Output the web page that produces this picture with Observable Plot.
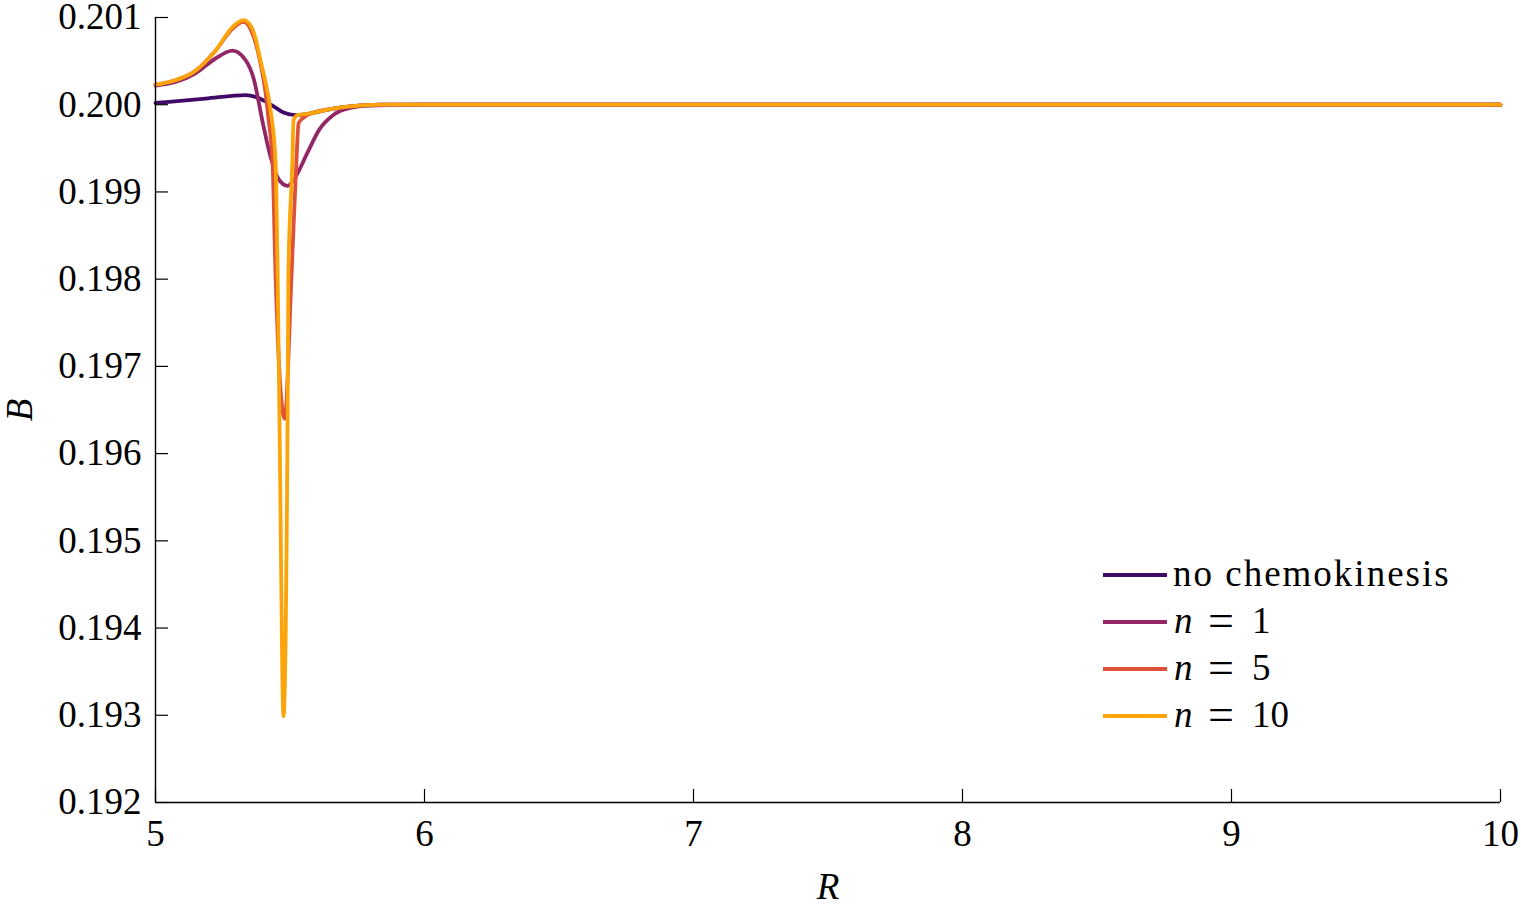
<!DOCTYPE html>
<html>
<head>
<meta charset="utf-8">
<script src="https://cdn.jsdelivr.net/npm/d3@7"></script>
<script src="https://cdn.jsdelivr.net/npm/@observablehq/plot@0.6"></script>
<style>
  html, body { margin: 0; padding: 0; background: #fff; }
  #chart svg g[aria-label="x-axis label"] text,
  #chart svg g[aria-label="y-axis label"] text { font-style: italic; }
</style>
</head>
<body>
<div id="chart"></div>
<script>
// ---- data ----
const seriesNames = ["no chemokinesis", "n = 1", "n = 5", "n = 10"];
const seriesColors = ["#420a68", "#932667", "#dd513a", "#fca50a"];

const R_none = [5.000, 5.186, 5.335, 5.372, 5.401, 5.435, 5.476, 5.520, 5.576, 5.651, 5.725, 5.836, 5.985, 10];
const B_none = [0.20002, 0.20007, 0.20011, 0.20009, 0.20005, 0.19999, 0.19991, 0.19988, 0.19990, 0.19995, 0.19998, 0.20000, 0.20000, 0.20000];

const R_n1 = [5.000, 5.074, 5.149, 5.223, 5.286, 5.335, 5.364, 5.401, 5.428, 5.457, 5.491, 5.520, 5.565, 5.610, 5.660, 5.720, 5.800, 5.985, 10];
const B_n1 = [0.20022, 0.20026, 0.20036, 0.20053, 0.20062, 0.20051, 0.20031, 0.19976, 0.19940, 0.19915, 0.19907, 0.19917, 0.19945, 0.19972, 0.19988, 0.19996, 0.19999, 0.20000, 0.20000];

const R_n5 = [5.000, 5.074, 5.149, 5.223, 5.286, 5.327, 5.353, 5.372, 5.390, 5.409, 5.420, 5.435, 5.446, 5.480, 5.506, 5.524, 5.532, 5.550, 5.576, 5.651, 5.725, 5.836, 5.985, 10];
const B_n5 = [0.20023, 0.20028, 0.20039, 0.20062, 0.20087, 0.20095, 0.20087, 0.20071, 0.20048, 0.20014, 0.19984, 0.19936, 0.19807, 0.19640, 0.19807, 0.19936, 0.19979, 0.19985, 0.19990, 0.19995, 0.19998, 0.20000, 0.20000, 0.20000];

const R_n10 = [5.000, 5.074, 5.149, 5.223, 5.286, 5.327, 5.353, 5.372, 5.390, 5.409, 5.428, 5.446, 5.454, 5.461, 5.476, 5.491, 5.494, 5.509, 5.513, 5.528, 5.576, 5.651, 5.725, 5.836, 5.985, 10];
const B_n10 = [0.20023, 0.20028, 0.20039, 0.20062, 0.20089, 0.20097, 0.20091, 0.20076, 0.20051, 0.20026, 0.19993, 0.19936, 0.19807, 0.19638, 0.19299, 0.19638, 0.19807, 0.19936, 0.19982, 0.19988, 0.19990, 0.19995, 0.19998, 0.20000, 0.20000, 0.20000];

const xTicks = [5, 6, 7, 8, 9, 10];
const yTicks = [0.192, 0.193, 0.194, 0.195, 0.196, 0.197, 0.198, 0.199, 0.200, 0.201];

// ---- build table ----
const seriesR = [R_none, R_n1, R_n5, R_n10];
const seriesB = [B_none, B_n1, B_n5, B_n10];
const table = seriesNames.flatMap((name, i) =>
  seriesR[i].map((r, j) => ({series: name, R: r, B: seriesB[i][j]}))
);

const FONT = "'Liberation Serif', 'Times New Roman', serif";

// legend rendered as a custom mark
function legendMark(index, scales, values, dims) {
  const g = d3.create("svg:g")
    .attr("font-family", FONT).attr("font-size", 37)
    .attr("text-anchor", "start");
  const x0 = dims.width - 418, x1 = dims.width - 354, tx = dims.width - 348;
  const y0 = 575, step = 47;
  seriesNames.forEach((name, i) => {
    const y = y0 + i * step;
    g.append("line")
      .attr("x1", x0).attr("x2", x1).attr("y1", y).attr("y2", y)
      .attr("stroke", scales.color(name)).attr("stroke-width", 3.8);
    const t = g.append("text").attr("y", y + 11).attr("fill", "black").attr("text-anchor", "start");
    const m = name.match(/^n = (\d+)$/);
    if (m) {
      t.append("tspan").attr("x", tx + 1).attr("font-style", "italic").text("n");
      t.append("tspan").attr("x", tx + 35).attr("font-size", 46).attr("dy", 3).text("=");
      t.append("tspan").attr("x", tx + 79).attr("dy", -3).text(m[1]);
    } else {
      t.attr("x", tx).attr("letter-spacing", 2).text(name);
    }
  });
  return g.node();
}

const chart = Plot.plot({
  width: 1521,
  height: 905,
  marginLeft: 155,
  marginRight: 21,
  marginTop: 17,
  marginBottom: 103,
  style: {fontFamily: FONT, fontSize: "37px", color: "black", background: "white"},
  x: {domain: [5, 10]},
  y: {domain: [0.192, 0.201]},
  color: {domain: seriesNames, range: seriesColors},
  marks: [
    Plot.line(table, {x: "R", y: "B", z: "series", stroke: "series", strokeWidth: 3.8, curve: "monotone-x"}),
    Plot.ruleX([5], {stroke: "black", strokeWidth: 1.4}),
    Plot.ruleY([0.192], {stroke: "black", strokeWidth: 1.4}),
    Plot.axisX(xTicks, {tickSize: -13, tickPadding: 30, strokeWidth: 1.2, tickFormat: d3.format("d"), label: "R", labelAnchor: "center", labelOffset: 96, labelArrow: "none"}),
    Plot.axisY(yTicks, {tickSize: -13, tickPadding: 27, strokeWidth: 1.2, tickFormat: d3.format(".3f"), label: "B", labelAnchor: "center", labelOffset: 150, labelArrow: "none"}),
    legendMark
  ]
});
document.getElementById("chart").appendChild(chart);
</script>
</body>
</html>
